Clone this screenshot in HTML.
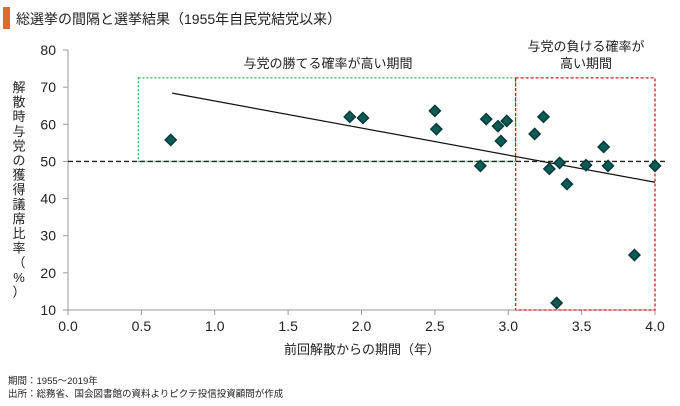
<!DOCTYPE html>
<html><head><meta charset="utf-8"><style>
body{margin:0;background:#fff;font-family:"Liberation Sans","Noto Sans CJK JP",sans-serif;}
svg text{font-family:"Liberation Sans","Noto Sans CJK JP",sans-serif;fill:#222;}
</style></head><body>
<svg width="680" height="401" viewBox="0 0 680 401">
<rect x="3" y="7" width="7" height="22" fill="#e06a2c"/>
<text x="16" y="24" font-size="14">総選挙の間隔と選挙結果（1955年自民党結党以来）</text>
<g id="axes"></g>
<g id="boxes"></g>
<g id="marks"></g>
<text x="328" y="68" font-size="13" text-anchor="middle">与党の勝てる確率が高い期間</text>
<text x="586" y="51" font-size="13" text-anchor="middle">与党の負ける確率が</text>
<text x="586" y="68" font-size="13" text-anchor="middle">高い期間</text>
<text x="362" y="354" font-size="13" text-anchor="middle">前回解散からの期間（年）</text>
<g font-size="13" text-anchor="middle" id="ytitle"></g>
<text x="8" y="384" font-size="9.5">期間：1955～2019年</text>
<text x="8" y="397" font-size="9.5">出所：総務省、国会図書館の資料よりピクテ投信投資顧問が作成</text>
</svg>
<script>
const xValues=[0.70,1.92,2.01,2.50,2.51,2.81,2.85,2.93,2.95,2.99,3.18,3.24,3.28,3.35,3.40,3.33,3.53,3.65,3.68,3.86,4.00];
const yValues=[55.8,62.0,61.7,63.6,58.7,48.8,61.4,59.5,55.5,60.9,57.4,62.0,48.0,49.6,43.9,11.9,49.0,53.9,48.8,24.8,48.8];
const xTicks=["0.0","0.5","1.0","1.5","2.0","2.5","3.0","3.5","4.0"];
const yTicks=["10","20","30","40","50","60","70","80"];
const trendX=[0.71,4.0];
const trendY=[68.4,44.4];
const refY=[50];
const winBox=[0.48,3.05,72.5,50];
const loseBox=[3.05,4.0,72.5,10];
const NS="http://www.w3.org/2000/svg";
const X=v=>68+v*146.75, Y=v=>310-(v-10)*3.714;
function mk(p,t,a){const e=document.createElementNS(NS,t);for(const k in a)e.setAttribute(k,a[k]);document.getElementById(p).appendChild(e);return e;}
let e;
e=mk("axes","line",{x1:X(0),x2:X(4),y1:310,y2:310,stroke:"#999"});


e=mk("axes","line",{x1:68,x2:68,y1:Y(80),y2:310,stroke:"#999"});


xTicks.forEach(t=>{const v=parseFloat(t);
 mk("axes","line",{x1:X(v),x2:X(v),y1:310,y2:315,stroke:"#999"});
 e=mk("axes","text",{x:X(v),y:331,"font-size":14,"text-anchor":"middle"});e.textContent=t;
 
 });
yTicks.forEach(t=>{const v=parseFloat(t);
 mk("axes","line",{x1:63,x2:68,y1:Y(v),y2:Y(v),stroke:"#999"});
 e=mk("axes","text",{x:56,y:Y(v)+5,"font-size":14,"text-anchor":"end"});e.textContent=t;
 
 });
e=mk("boxes","rect",{x:X(winBox[0]),y:Y(winBox[2]),width:X(winBox[1])-X(winBox[0]),height:Y(winBox[3])-Y(winBox[2]),fill:"none",stroke:"#2db34a","stroke-dasharray":"2,2","stroke-width":1.3});


e=mk("boxes","line",{x1:68,x2:665,y1:Y(refY[0]),y2:Y(refY[0]),stroke:"#222","stroke-dasharray":"5,3","stroke-width":1.3});


e=mk("boxes","rect",{x:X(loseBox[0]),y:Y(loseBox[2]),width:X(loseBox[1])-X(loseBox[0]),height:Y(loseBox[3])-Y(loseBox[2]),fill:"none",stroke:"#d01c1c","stroke-dasharray":"3,2","stroke-width":1.3});


e=mk("marks","line",{x1:X(trendX[0]),x2:X(trendX[1]),y1:Y(trendY[0]),y2:Y(trendY[1]),stroke:"#111","stroke-width":1.2});


xValues.forEach((xv,i)=>{const cx=X(xv),cy=Y(yValues[i]);
 e=mk("marks","polygon",{points:`${cx},${cy-5.5} ${cx+5.5},${cy} ${cx},${cy+5.5} ${cx-5.5},${cy}`,fill:"#0d5b57",stroke:"#063a37","stroke-width":1.5});
 
 });
const yt="解散時与党の獲得議席比率（%）";
[...yt].forEach((c,i)=>{e=mk("ytitle","text",{x:19,y:92+i*14.6});e.textContent=c;});
</script>
</body></html>
